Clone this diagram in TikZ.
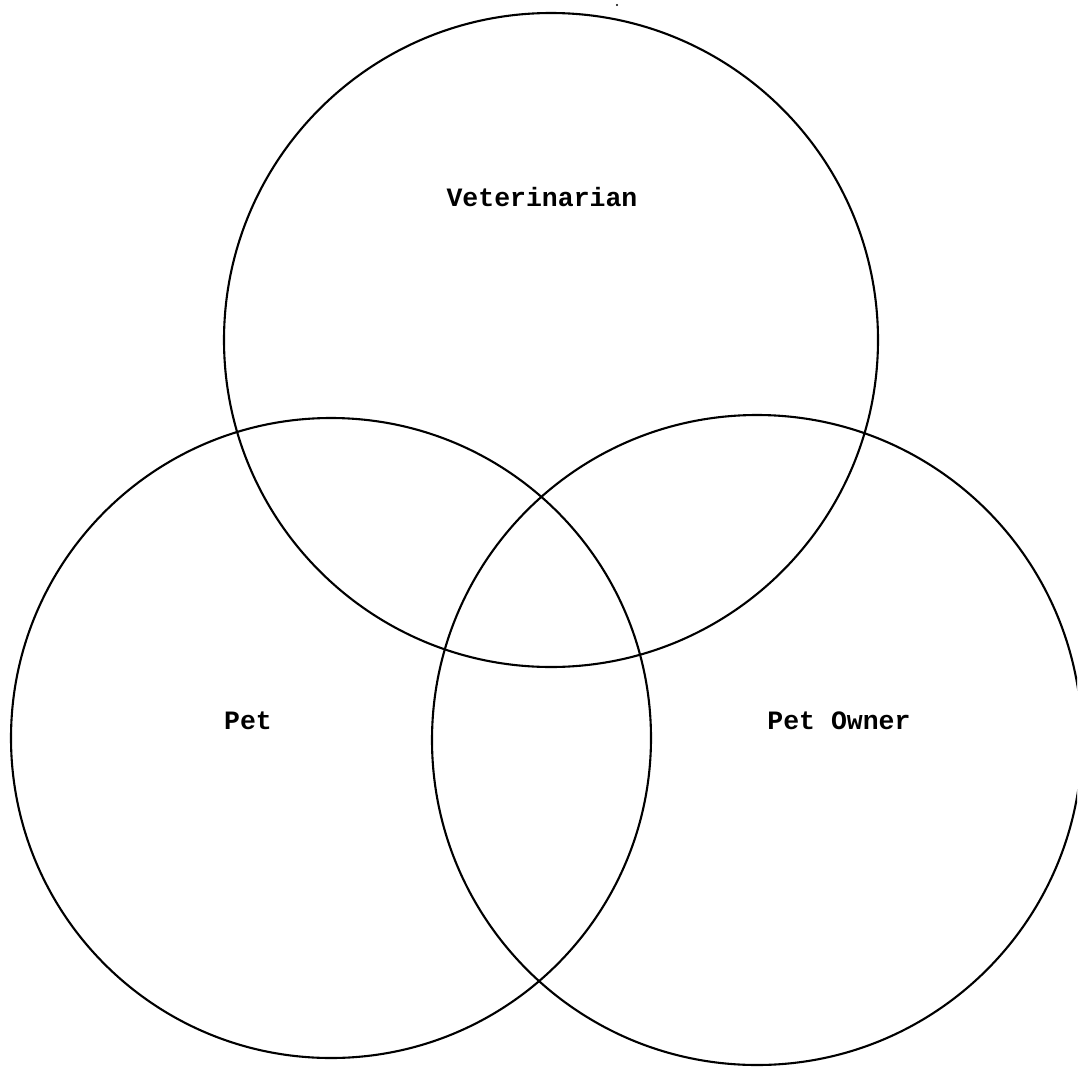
\documentclass[tikz,border=0pt]{standalone}
\usepackage{fontspec}
\setmonofont{Liberation Mono}
\begin{document}
\begin{tikzpicture}[x=1pt,y=-1pt,
  setc/.style={draw=black,line width=2.1pt},
  lab/.style={font=\fontsize{26.5}{30}\selectfont\ttfamily\bfseries,anchor=center}]
\useasboundingbox (0,0) rectangle (1077,1082);
\begin{scope}
\clip (0,0) rectangle (1077,1082);
\node[setc,circle,minimum size=654pt,inner sep=0pt] (vet) at (551,340) {};
\node[setc,circle,minimum size=640pt,inner sep=0pt] (pet) at (331,738) {};
\node[setc,circle,minimum size=650pt,inner sep=0pt] (own) at (757,740) {};
\end{scope}
\node[lab] (tvet) at (542,197) {Veterinarian};
\node[lab] (tpet) at (248,721) {Pet};
\node[lab] (town) at (839,721) {Pet Owner};
\fill (617,5) circle (1.2pt);
\end{tikzpicture}
\end{document}
